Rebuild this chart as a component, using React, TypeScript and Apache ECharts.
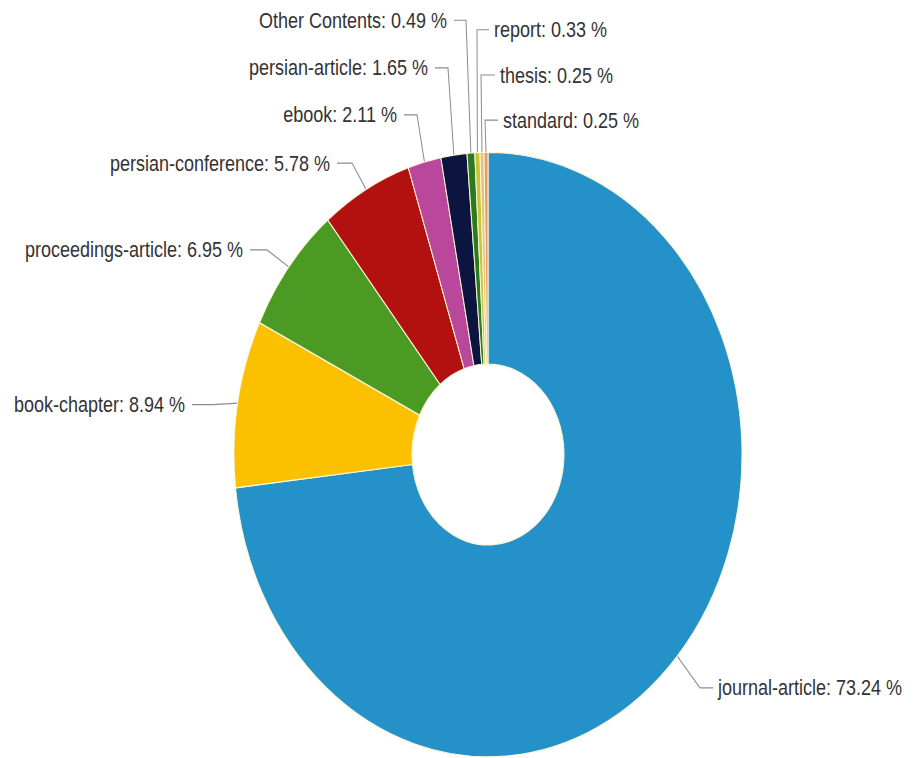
import React, { useEffect, useRef } from "react";
import * as echarts from "echarts";

// ---- data ----
const categories = [
  "journal-article",
  "book-chapter",
  "proceedings-article",
  "persian-conference",
  "ebook",
  "persian-article",
  "Other Contents",
  "report",
  "thesis",
  "standard",
];
const shares = [73.24, 8.94, 6.95, 5.78, 2.11, 1.65, 0.49, 0.33, 0.25, 0.25];
const sliceColors = [
  "#2492c8",
  "#fbc100",
  "#4a9a24",
  "#b3110f",
  "#b9479b",
  "#0c1440",
  "#2c7a1e",
  "#c8c43c",
  "#e6c27c",
  "#e89a6c",
];

// ---- label placement (unscaled chart coords): text anchor x, y, leader elbow x ----
const labelPlacement: Record<string, { x: number; y: number; elbow: number; side: "left" | "right" }> = {
  "journal-article": { x: 718, y: 578, elbow: 700, side: "right" },
  "book-chapter": { x: 185, y: 340, elbow: 213, side: "left" },
  "proceedings-article": { x: 243, y: 210, elbow: 267, side: "left" },
  "persian-conference": { x: 330, y: 137, elbow: 352, side: "left" },
  ebook: { x: 397, y: 96.5, elbow: 417, side: "left" },
  "persian-article": { x: 428, y: 57, elbow: 448, side: "left" },
  "Other Contents": { x: 447, y: 17, elbow: 466, side: "left" },
  report: { x: 494, y: 25, elbow: 477, side: "right" },
  thesis: { x: 500, y: 63, elbow: 481, side: "right" },
  standard: { x: 503, y: 101, elbow: 485, side: "right" },
};

const SCALE_Y = 1.19;

export default function App() {
  const ref = useRef<HTMLDivElement>(null);
  useEffect(() => {
    if (!ref.current) return;
    const chart = echarts.init(ref.current, null, { renderer: "svg" });
    chart.setOption({
      animation: false,
      backgroundColor: "#ffffff",
      series: [
        {
          type: "pie",
          center: [488, 382],
          radius: [76, 254],
          startAngle: 90,
          clockwise: true,
          avoidLabelOverlap: false,
          itemStyle: { borderColor: "#fbf6d6", borderWidth: 1 },
          label: {
            show: true,
            position: "outside",
            formatter: "{b}: {c} %",
            fontFamily: "'Liberation Sans', Arial, sans-serif",
            fontSize: 18,
            color: "#333333",
          },
          labelLine: {
            show: true,
            length: 10,
            length2: 10,
            lineStyle: { color: "#8c8c8c", width: 1 },
          },
          labelLayout: (params: any) => {
            const name = categories[params.dataIndex];
            const p = labelPlacement[name];
            const pts = params.labelLinePoints;
            if (!p || !pts) return {};
            const start = pts[0];
            const end = p.side === "left" ? p.x + 7 : p.x - 5;
            return {
              x: p.x,
              y: p.y,
              align: p.side === "left" ? "right" : "left",
              verticalAlign: "middle",
              labelLinePoints: [start, [p.elbow, p.y], [end, p.y]],
            };
          },
          data: categories.map((n, i) => ({
            name: n,
            value: shares[i],
            itemStyle: { color: sliceColors[i] },
          })),
        },
      ],
    });
    return () => chart.dispose();
  }, []);
  return (
    <div
      ref={ref}
      style={{
        position: "fixed",
        left: 0,
        top: 0,
        width: 916,
        height: Math.round(758 / SCALE_Y),
        transform: `scaleY(${SCALE_Y})`,
        transformOrigin: "0 0",
        background: "#fff",
      }}
    />
  );
}
